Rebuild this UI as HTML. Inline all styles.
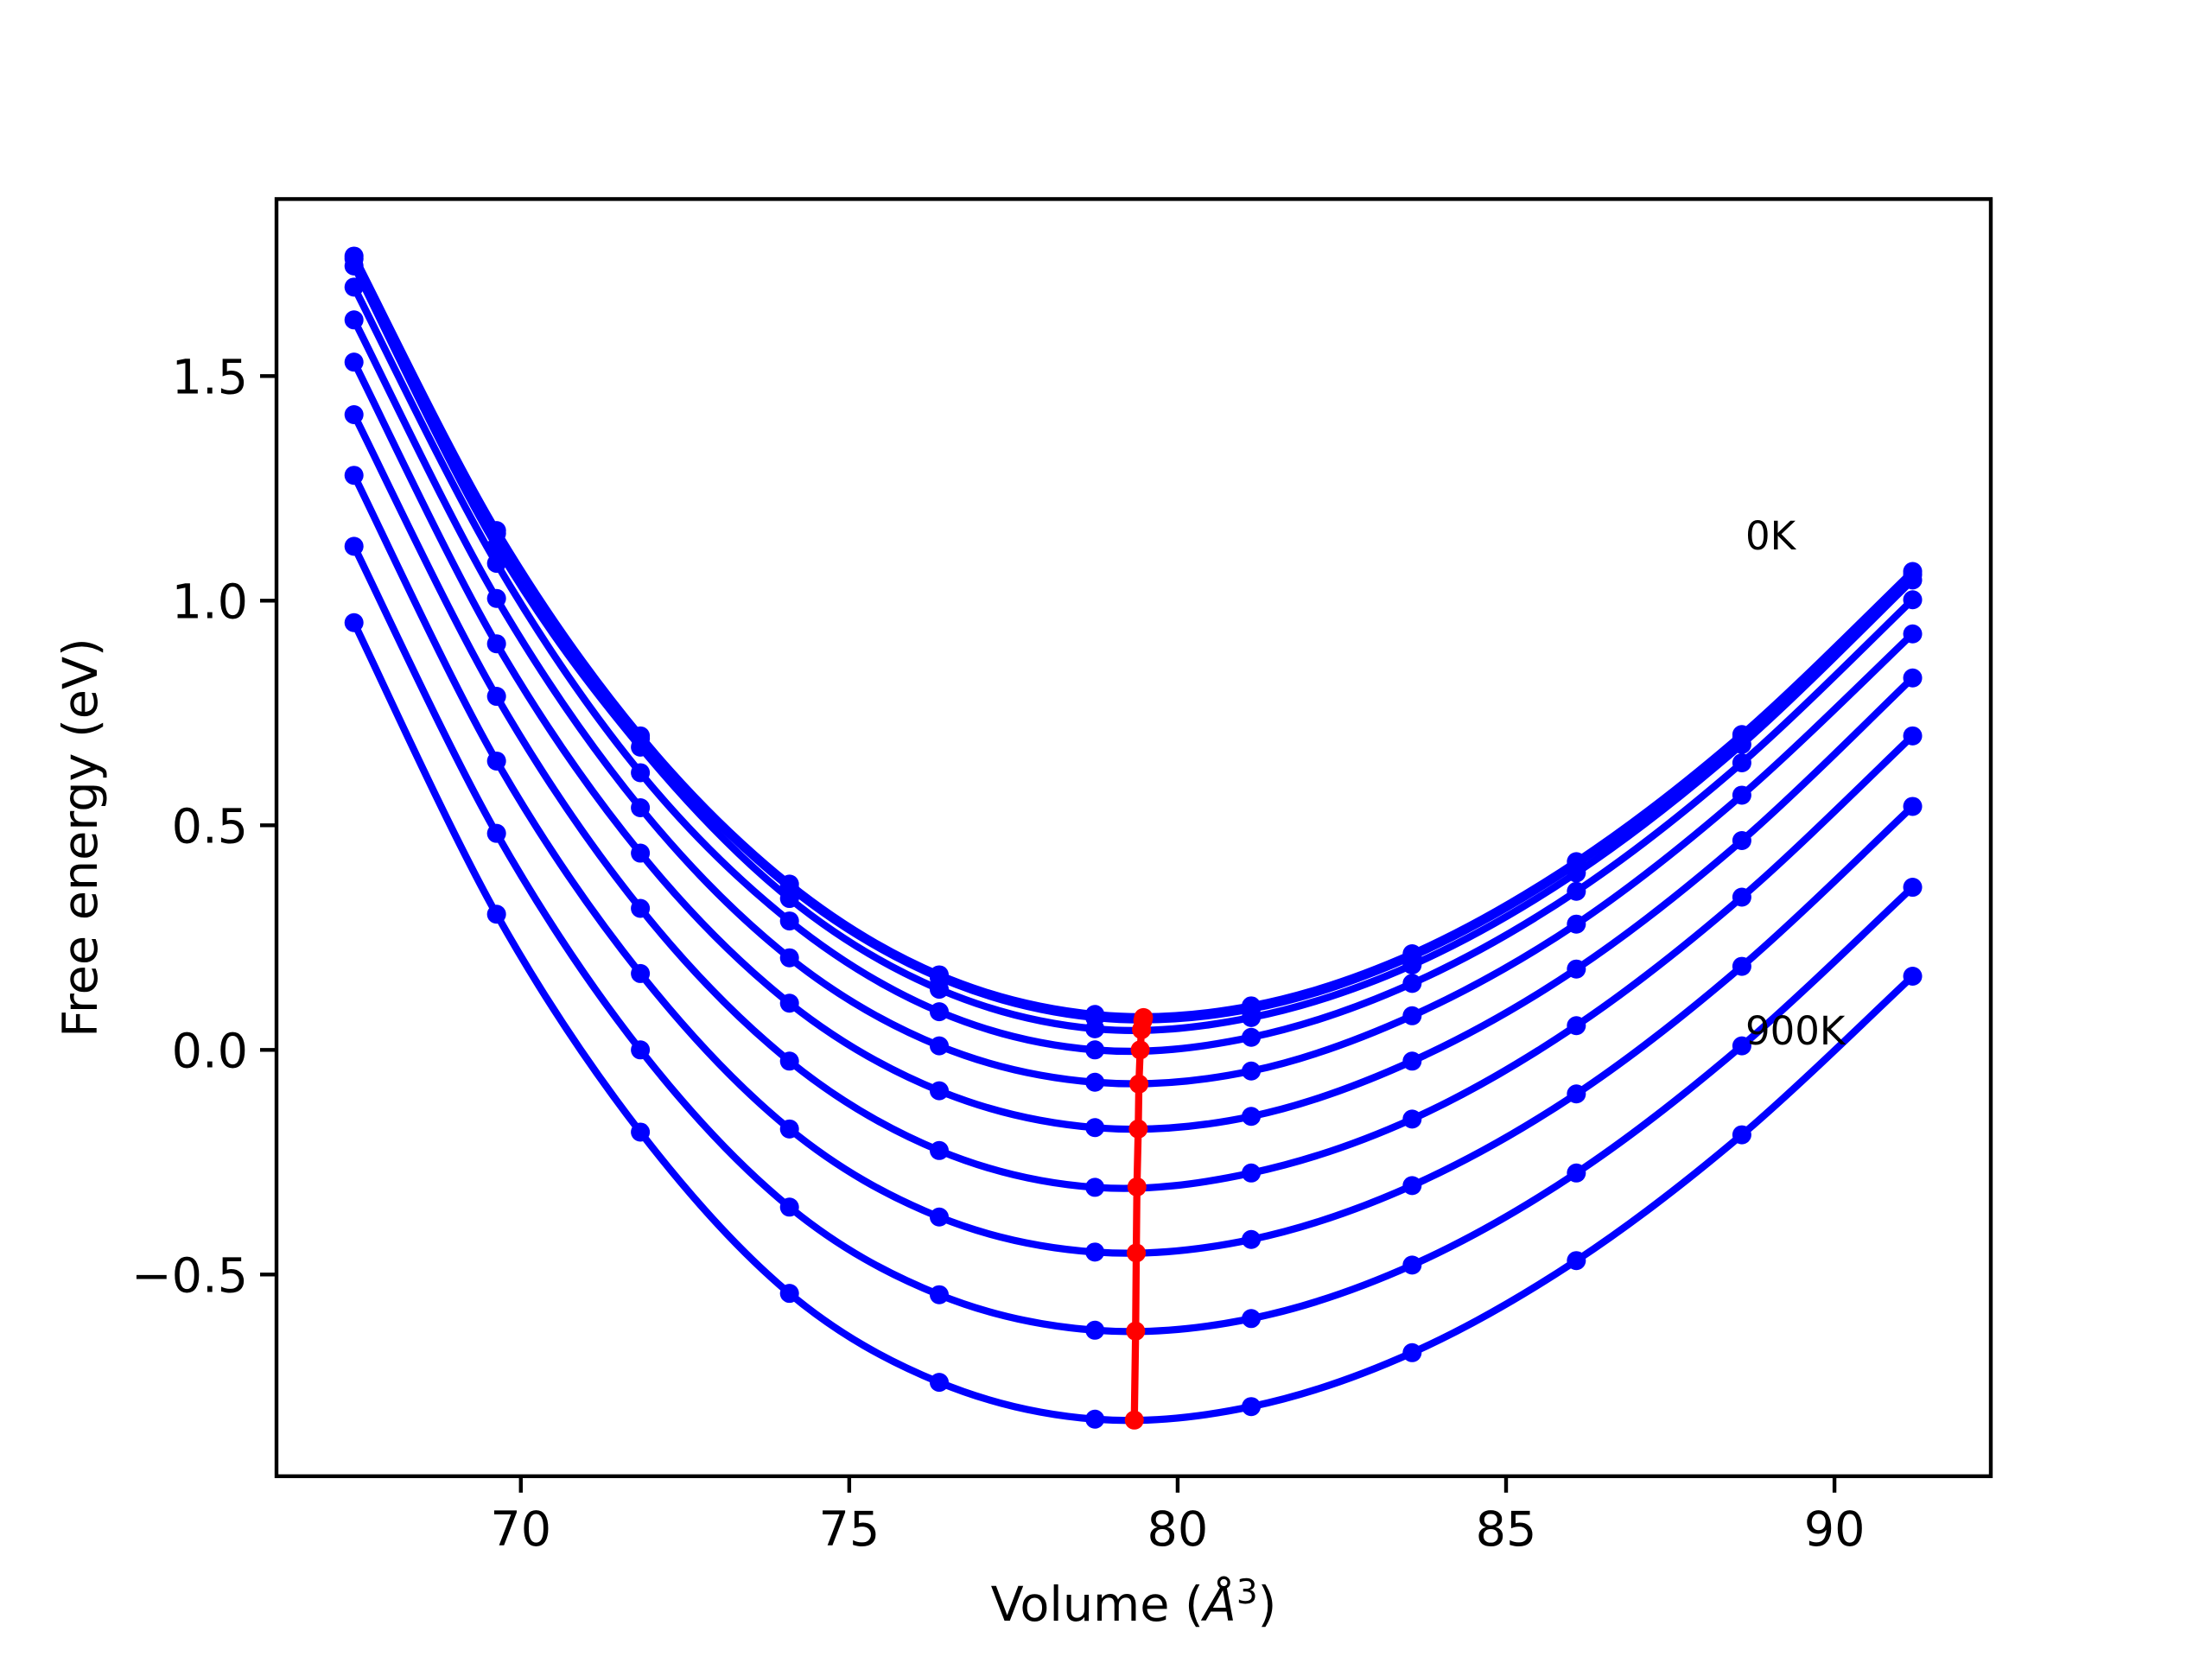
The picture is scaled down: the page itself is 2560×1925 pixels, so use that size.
<!DOCTYPE html>
<html><head><meta charset="utf-8"><style>
html,body{margin:0;padding:0;background:#fff}
svg text{font-family:"DejaVu Sans","Liberation Sans",sans-serif}
</style></head><body>
<svg id="chart" width="2560" height="1920" viewBox="0 0 2560 1920" xmlns="http://www.w3.org/2000/svg">
<rect width="2560" height="1920" fill="#fff"/>
<g id="curves"></g>
<g id="axes"></g>
</svg>
<script>
const volumes = [67.46, 69.63, 71.82, 74.09, 76.37, 78.74, 81.12, 83.57, 86.07, 88.59, 91.19];
const temperatures = ["0K","100K","200K","300K","400K","500K","600K","700K","800K","900K"];
const e0K   = [1.767, 1.156, 0.699, 0.369, 0.167, 0.079, 0.098, 0.214, 0.419, 0.702, 1.065];
const e100K = [1.761, 1.150, 0.693, 0.362, 0.161, 0.072, 0.091, 0.208, 0.413, 0.696, 1.058];
const e200K = [1.745, 1.121, 0.674, 0.337, 0.135, 0.047, 0.072, 0.189, 0.394, 0.680, 1.046];
const e300K = [1.698, 1.083, 0.617, 0.287, 0.085, 0.000, 0.028, 0.148, 0.353, 0.639, 1.002];
const e400K = [1.625, 1.005, 0.539, 0.205, 0.009, -0.072, -0.047, 0.076, 0.280, 0.567, 0.926];
const e500K = [1.531, 0.904, 0.438, 0.104, -0.091, -0.173, -0.148, -0.025, 0.180, 0.466, 0.828];
const e600K = [1.414, 0.787, 0.315, -0.025, -0.224, -0.306, -0.274, -0.154, 0.054, 0.340, 0.699];
const e700K = [1.279, 0.643, 0.170, -0.176, -0.372, -0.450, -0.422, -0.302, -0.098, 0.186, 0.542];
const e800K = [1.121, 0.482, 0.000, -0.350, -0.545, -0.624, -0.598, -0.479, -0.274, 0.009, 0.362];
const e900K = [0.951, 0.302, -0.183, -0.542, -0.740, -0.822, -0.794, -0.674, -0.469, -0.189, 0.164];
const series = [e0K,e100K,e200K,e300K,e400K,e500K,e600K,e700K,e800K,e900K];
const minVolumes = [79.48, 79.47, 79.45, 79.43, 79.41, 79.40, 79.38, 79.37, 79.36, 79.34];
const minEnergies = [0.072, 0.065, 0.045, 0.000, -0.076, -0.176, -0.305, -0.452, -0.626, -0.824];
const xTicks = [70, 75, 80, 85, 90];
const yTicks = [-0.5, 0.0, 0.5, 1.0, 1.5];
const yTickLabels = ["\u22120.5","0.0","0.5","1.0","1.5"];

const L=320,R=2304,T=230.4,B=1708.8;
const xMin=66.28,xMax=92.38,yMin=-0.949,yMax=1.894;
const sx=v=>L+(v-xMin)/(xMax-xMin)*(R-L);
const sy=v=>B-(v-yMin)/(yMax-yMin)*(B-T);
const NS="http://www.w3.org/2000/svg";
function mk(tag,attrs,parent){const e=document.createElementNS(NS,tag);for(const k in attrs)e.setAttribute(k,attrs[k]);parent.appendChild(e);return e;}
function spline(pts){
  let d=`M${pts[0][0]},${pts[0][1]}`;
  for(let i=0;i<pts.length-1;i++){
    const p0=pts[Math.max(0,i-1)],p1=pts[i],p2=pts[i+1],p3=pts[Math.min(pts.length-1,i+2)];
    const c1=[p1[0]+(p2[0]-p0[0])/6,p1[1]+(p2[1]-p0[1])/6];
    const c2=[p2[0]-(p3[0]-p1[0])/6,p2[1]-(p3[1]-p1[1])/6];
    d+=` C${c1[0]},${c1[1]} ${c2[0]},${c2[1]} ${p2[0]},${p2[1]}`;
  }
  return d;
}
const cg=document.getElementById('curves');
series.forEach((s,k)=>{
  const pts=volumes.map((v,i)=>[sx(v),sy(s[i])]);
  const p=mk('path',{d:spline(pts),fill:'none',stroke:'#0000ff','stroke-width':8.3,'stroke-linejoin':'round'},cg);
  
  
  pts.forEach((q,i)=>{
    const c=mk('circle',{cx:q[0],cy:q[1],r:11,fill:'#0000ff'},cg);
    
    
  });
});
const mpts=minVolumes.map((v,i)=>[sx(v),sy(minEnergies[i])]);
const ml=mk('polyline',{points:mpts.map(p=>p.join(',')).join(' '),fill:'none',stroke:'#ff0000','stroke-width':8.3,'stroke-linejoin':'round'},cg);


mpts.forEach(q=>{
  const c=mk('circle',{cx:q[0],cy:q[1],r:11,fill:'#ff0000'},cg);
  
  
});
const lbl0=mk('text',{x:2020,y:636,'font-size':45,fill:'#000'},cg);
lbl0.textContent='0K';


const lbl9=mk('text',{x:2020,y:1209,'font-size':45,fill:'#000'},cg);
lbl9.textContent='900K';



const ag=document.getElementById('axes');
const fr=mk('rect',{x:L,y:T,width:R-L,height:B-T,fill:'none',stroke:'#000','stroke-width':4.4},ag);


xTicks.forEach(t=>{
  const x=sx(t);
  const l=mk('line',{x1:x,y1:B,x2:x,y2:B+19,stroke:'#000','stroke-width':4.4},ag);
  
  
  const tx=mk('text',{x:x,y:B+80,'font-size':55.6,'text-anchor':'middle',fill:'#000'},ag);
  tx.textContent=String(t);
  
  
});
yTicks.forEach((t,i)=>{
  const y=sy(t);
  const l=mk('line',{x1:L-19,y1:y,x2:L,y2:y,stroke:'#000','stroke-width':4.4},ag);
  
  
  const tx=mk('text',{x:L-33,y:y+20,'font-size':55.6,'text-anchor':'end',fill:'#000'},ag);
  tx.textContent=yTickLabels[i];
  
  
});
const xt=mk('text',{x:(L+R)/2,y:1876,'font-size':55.6,'text-anchor':'middle',fill:'#000'},ag);
xt.innerHTML='Volume (<tspan font-style="italic">Å</tspan><tspan dy="-20" font-size="39">3</tspan><tspan dy="20">)</tspan>';


const yt=mk('text',{x:0,y:0,'font-size':55.6,'text-anchor':'middle',fill:'#000',transform:`translate(112,${(T+B)/2}) rotate(-90)`},ag);
yt.textContent='Free energy (eV)';


</script>
</body></html>
